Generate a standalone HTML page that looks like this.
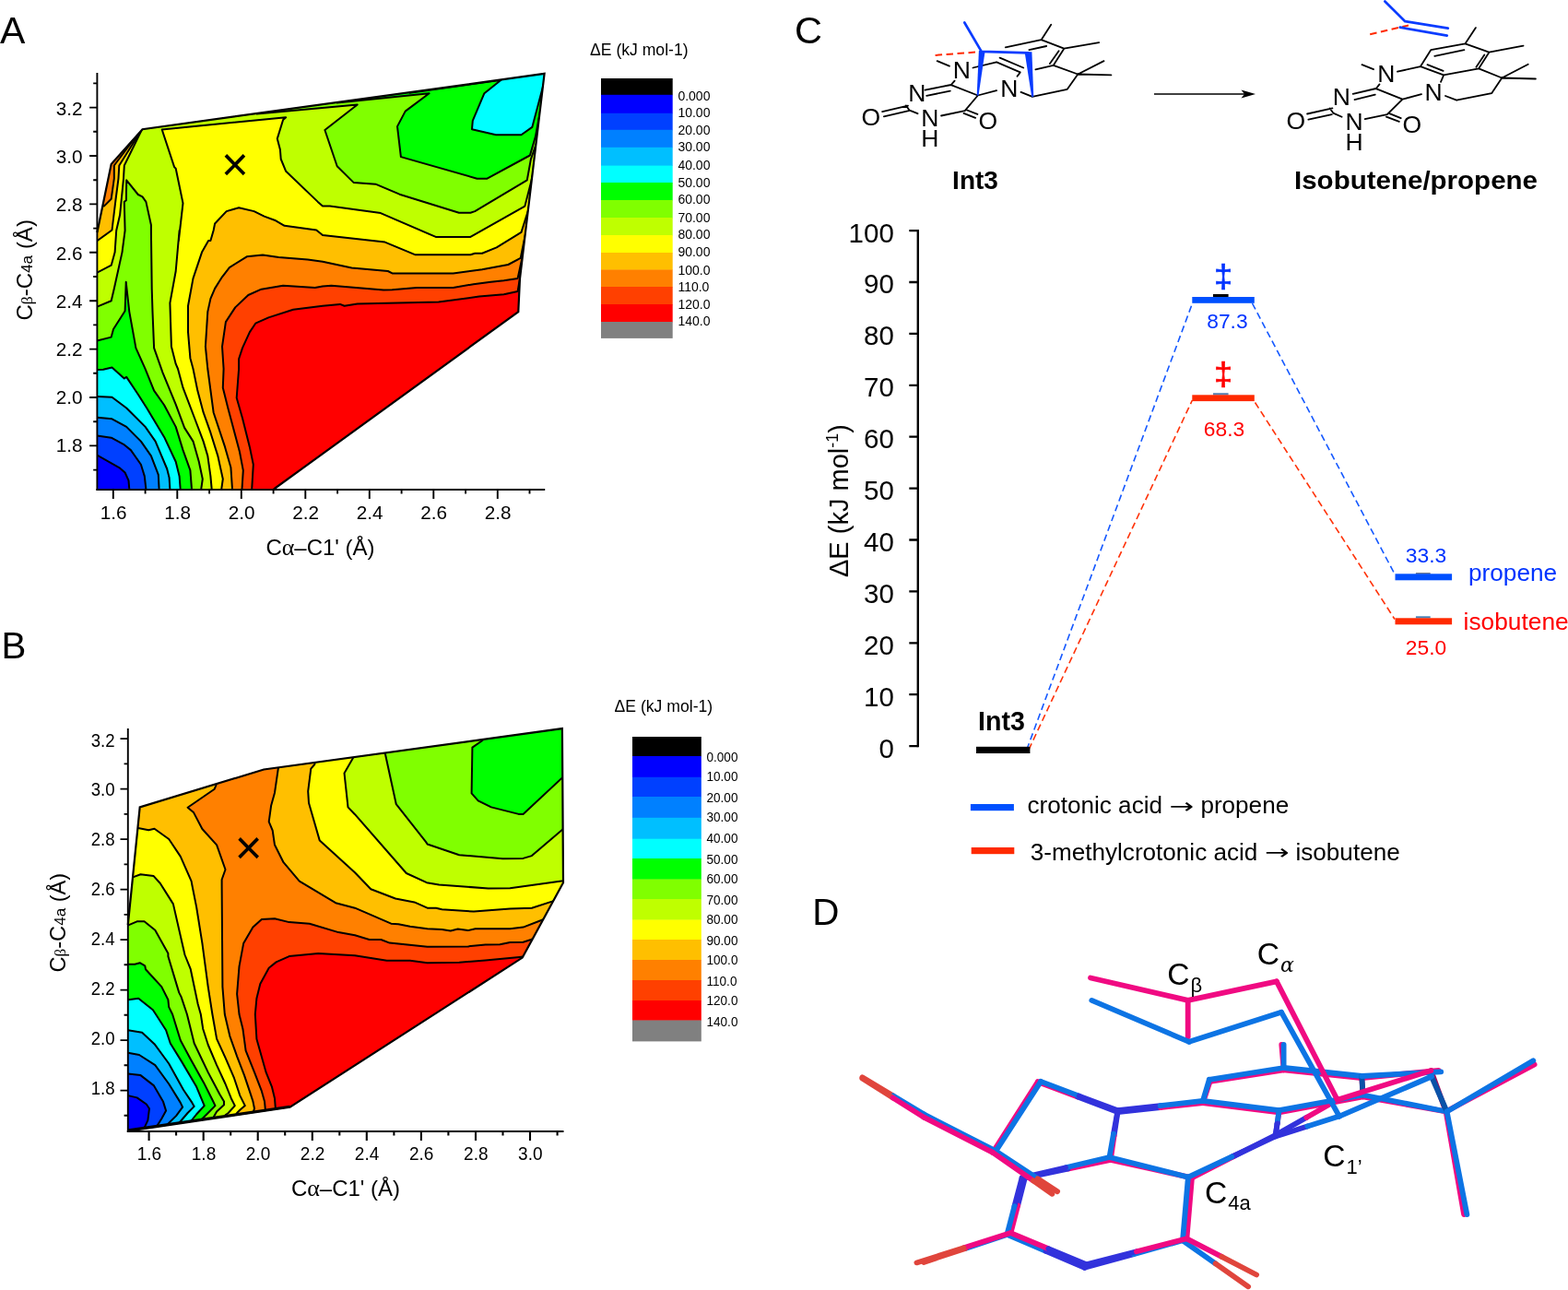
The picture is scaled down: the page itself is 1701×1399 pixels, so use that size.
<!DOCTYPE html>
<html><head><meta charset="utf-8"><title>Figure</title>
<style>
html,body{margin:0;padding:0;background:#fff;width:1701px;height:1399px;}
svg{display:block;font-family:'Liberation Sans', sans-serif;}
</style></head>
<body>
<svg width="1701" height="1399" viewBox="0 0 1701 1399">
<rect width="1701" height="1399" fill="#fff"/>
<text x="0" y="46.5" font-size="41">A</text>
<text x="1.5" y="713.5" font-size="40.2">B</text>
<text x="862" y="46.8" font-size="41.5">C</text>
<text x="881.2" y="1003.1" font-size="40.4">D</text>
<defs><clipPath id="clipA"><polygon points="105.4,530.5 105.4,252.0 120.7,178.0 154.5,140.2 590.6,79.9 564.0,302.0 562.3,338.1 297.0,530.5"/></clipPath></defs>
<g clip-path="url(#clipA)" stroke="#000" stroke-width="2" stroke-linejoin="round">
<polygon points="105.4,530.5 105.4,252.0 120.7,178.0 154.5,140.2 590.6,79.9 564.0,302.0 562.3,338.1 297.0,530.5" fill="#ffff00" stroke="none"/>
<polygon points="240.2,532.1 240.2,530.6 241.8,519.5 236.3,494.4 228.4,469.2 220.6,447.2 214.3,423.6 209.5,400.0 206.4,388.4 204.0,360.1 204.0,331.8 209.5,301.9 219.0,273.6 226.1,261.0 228.4,261.0 231.6,250.0 233.1,242.5 245.7,229.1 259.1,225.2 275.6,229.1 286.6,234.6 299.2,239.3 308.6,244.8 332.2,248.0 343.2,249.5 350.0,255.0 417.6,262.6 450.7,276.3 510.4,276.3 515.2,274.7 523.0,274.7 538.7,268.4 565.5,251.9 572.9,228.6 576.2,212.0 640.0,250.0 640.0,570.0 200.0,570.0" fill="#ffbf00"/>
<polygon points="252.0,532.1 252.0,530.6 250.4,507.0 244.1,484.9 231.6,447.2 225.3,400.0 222.9,375.8 225.3,338.1 228.4,323.9 233.1,312.9 241.0,300.3 248.9,290.1 267.7,278.3 285.0,276.4 302.3,279.1 333.8,281.5 350.0,283.8 381.5,290.6 420.8,294.0 425.5,296.4 491.6,296.4 523.0,292.2 551.3,287.0 564.7,279.9 569.2,257.7 572.5,243.0 640.0,250.0 640.0,570.0 200.0,570.0" fill="#ff8000"/>
<polygon points="262.5,532.1 262.5,530.6 263.8,510.1 259.9,489.7 247.3,442.5 241.8,420.4 242.6,400.0 241.0,375.8 244.9,349.1 255.2,333.4 269.3,320.0 283.5,313.7 307.1,309.8 341.7,312.1 350.0,310.6 359.4,309.8 416.1,314.5 425.5,314.2 452.2,312.1 491.6,312.1 513.6,308.2 532.5,305.8 546.6,304.3 561.6,301.9 566.2,280.8 569.0,268.0 640.0,250.0 640.0,570.0 200.0,570.0" fill="#ff4000"/>
<polygon points="273.2,532.1 273.2,530.6 274.8,503.8 270.9,484.9 263.0,453.5 256.7,431.5 259.1,400.0 259.1,389.2 263.0,377.4 270.9,360.1 277.2,350.7 291.3,344.4 318.1,335.7 350.0,331.8 368.9,329.9 373.6,331.8 387.7,329.4 475.8,327.4 519.9,321.6 546.6,319.2 561.6,316.1 563.8,302.7 566.0,290.0 640.0,250.0 640.0,570.0 200.0,570.0" fill="#ff0000"/>
<polygon points="105.3,261.3 121.5,249.5 125.4,217.3 128.5,193.7 129.3,179.5 152.9,141.8 150.0,130.0 60.0,100.0 60.0,270.0" fill="#ffbf00"/>
<polygon points="112.8,223.6 120.7,215.7 123.8,193.7 123.8,179.5 152.9,141.0 150.0,130.0 60.0,100.0 60.0,200.0" fill="#ff8000"/>
<polygon points="99.4,298.8 105.3,295.6 120.7,287.7 124.6,273.6 126.2,250.0 130.1,233.0 134.0,193.7 134.8,179.5 153.7,141.0 150.0,120.0 620.0,60.0 579.5,183.0 575.9,198.2 569.4,223.6 510.4,256.9 472.7,256.9 412.9,231.1 357.9,223.6 350.0,223.6 344.8,218.9 310.2,185.8 304.7,172.5 303.9,162.2 300.8,150.4 307.1,130.0 310.2,127.3 175.7,140.5 189.1,181.1 190.7,182.7 198.5,220.4 193.8,261.3 194.6,250.0 190.7,294.0 184.4,328.6 185.9,375.8 190.7,394.7 193.0,400.0 198.5,420.4 211.1,453.5 220.6,478.6 225.3,494.4 228.4,516.4 229.7,530.6 229.7,533.7 60.0,560.0" fill="#bfff00"/>
<polygon points="99.4,334.9 105.3,332.6 120.7,326.3 123.8,312.9 132.5,273.6 135.6,250.0 134.8,218.9 136.9,217.3 137.2,195.3 149.8,211.0 154.5,213.4 158.4,218.9 163.9,244.0 163.9,250.0 164.7,312.9 165.5,338.1 167.1,377.4 176.5,404.1 190.7,438.7 200.1,463.9 209.5,478.6 215.8,500.7 219.8,519.5 218.2,530.6 218.2,533.7 60.0,560.0" fill="#80ff00"/>
<polygon points="278.7,123.4 387.7,113.5 352.4,141.0 365.7,180.3 383.8,198.1 407.4,199.7 433.4,210.7 497.9,230.7 510.4,230.7 515.2,229.1 571.8,195.3 575.9,172.7 581.0,158.0 620.0,60.0 300.0,100.0" fill="#80ff00"/>
<polygon points="99.4,371.1 105.3,369.5 120.7,365.6 123.0,357.0 135.6,337.3 136.7,305.8 140.3,338.1 144.3,360.1 147.4,377.4 157.6,400.1 167.1,423.6 178.1,439.3 190.7,462.9 198.5,488.1 206.4,510.1 208.0,530.6 208.0,533.7 60.0,560.0" fill="#00ff00"/>
<polygon points="365.7,111.4 465.6,101.2 439.7,120.6 431.0,137.1 434.9,170.1 517.5,193.7 528.5,193.7 574.9,168.5 580.9,148.1 587.5,111.9 620.0,60.0 380.0,95.0" fill="#00ff00"/>
<polygon points="99.4,401.0 105.3,401.0 112.0,400.7 121.5,398.6 134.8,410.4 137.2,408.9 149.8,427.7 159.2,442.5 178.1,473.9 190.7,500.7 194.6,516.4 195.7,530.6 195.7,533.7 60.0,560.0" fill="#00ffff"/>
<polygon points="444.4,100.7 543.5,86.7 525.4,101.2 512.8,130.8 512.0,140.2 538.0,146.2 565.5,146.2 577.3,137.9 587.8,98.5 593.0,78.9 620.0,60.0 450.0,80.0" fill="#00ffff"/>
<polygon points="99.4,429.9 105.3,429.9 121.5,430.7 137.2,442.5 157.6,462.9 168.6,478.6 181.2,508.5 183.6,518.0 184.4,530.6 184.4,533.7 60.0,560.0" fill="#00bfff"/>
<polygon points="99.4,452.7 105.3,452.7 121.5,454.3 137.2,462.9 152.9,478.6 163.9,494.4 171.8,514.8 172.6,530.6 172.6,533.7 60.0,560.0" fill="#0080ff"/>
<polygon points="99.4,472.4 105.3,472.4 120.7,474.7 134.0,481.8 141.9,488.1 152.9,503.8 156.8,516.4 158.4,530.6 158.4,533.7 60.0,560.0" fill="#0040ff"/>
<polygon points="99.4,492.8 105.3,493.6 130.1,507.7 135.6,512.5 139.5,521.1 140.3,530.6 140.3,533.7 60.0,560.0" fill="#0000ff"/>
</g>
<polyline points="105.4,252.0 120.7,178.0 154.5,140.2 590.6,79.9 564.0,302.0 562.3,338.1 297.0,530.5" fill="none" stroke="#000" stroke-width="2.2" stroke-linejoin="miter"/>
<text x="255.0" y="195.9" font-size="51" text-anchor="middle">×</text>
<defs><clipPath id="clipB"><polygon points="138.8,1226.6 138.8,1003.0 151.7,875.4 286.2,834.5 609.9,790.1 611.0,957.2 566.7,1038.6 314.5,1200.7"/></clipPath></defs>
<g clip-path="url(#clipB)" stroke="#000" stroke-width="2.0" stroke-linejoin="round">
<polygon points="138.8,1226.6 138.8,1003.0 151.7,875.4 286.2,834.5 609.9,790.1 611.0,957.2 566.7,1038.6 314.5,1200.7" fill="#ff8000" stroke="none"/>
<polygon points="287.8,1210.1 287.8,1203.0 287.0,1194.4 283.9,1183.4 276.0,1162.9 266.6,1139.3 263.4,1115.7 259.5,1100.0 257.1,1078.0 259.5,1048.1 264.2,1022.9 274.4,1005.6 283.9,997.0 298.0,996.2 313.7,1000.1 335.8,1001.7 367.2,1011.1 385.0,1014.3 400.7,1019.0 413.3,1019.0 422.7,1022.6 463.6,1026.8 507.7,1026.4 526.6,1024.5 542.3,1024.2 553.3,1022.1 567.5,1021.7 576.1,1019.0 589.5,1013.5 660.0,1000.0 660.0,1260.0 280.0,1260.0" fill="#ff4000"/>
<polygon points="298.8,1208.5 298.8,1201.5 298.0,1191.2 294.9,1178.6 288.6,1162.9 278.4,1126.7 276.8,1100.0 278.4,1082.7 282.3,1067.0 291.7,1049.7 299.6,1043.4 313.7,1037.1 345.2,1033.9 385.0,1036.3 419.6,1041.8 444.8,1041.8 463.6,1044.2 498.2,1043.7 526.6,1041.5 563.5,1037.9 576.9,1036.3 660.0,1000.0 660.0,1260.0 280.0,1260.0" fill="#ff0000"/>
<polygon points="100.0,800.0 236.0,830.0 235.1,849.4 234.3,851.8 232.7,855.7 203.6,875.7 209.9,880.9 219.4,899.0 235.1,916.3 244.5,943.0 240.6,954.0 240.6,960.0 241.4,1070.1 243.8,1100.0 249.3,1123.6 257.1,1145.6 265.0,1166.1 271.3,1184.9 274.4,1194.4 276.0,1202.2 275.2,1204.6 274.4,1208.5 300.0,1260.0 100.0,1260.0" fill="#ffbf00"/>
<polygon points="147.0,897.7 151.0,898.2 161.2,900.2 167.5,898.7 183.2,910.0 195.8,928.9 207.6,955.6 208.4,960.0 213.1,983.6 219.4,1022.9 225.7,1070.1 230.4,1100.0 235.1,1126.7 244.5,1147.2 254.0,1169.2 260.3,1188.1 265.8,1199.1 260.3,1203.8 257.1,1207.0 255.6,1210.1 250.6,1260.0 100.0,1260.0 100.0,897.7" fill="#ffff00"/>
<polygon points="140.7,953.2 145.4,950.9 152.5,948.2 166.7,950.1 173.8,958.0 183.2,972.9 187.9,980.4 200.5,1035.5 206.8,1051.2 214.7,1089.0 217.8,1100.0 220.2,1115.7 225.7,1133.0 235.1,1155.1 244.5,1175.5 250.8,1191.2 254.8,1199.1 247.7,1207.0 244.5,1209.3 243.0,1212.5 238.0,1260.0 100.0,1260.0 100.0,953.2" fill="#bfff00"/>
<polygon points="134.4,1004.8 139.2,1003.3 148.6,999.3 156.5,999.3 168.3,1008.8 182.4,1033.9 182.4,1037.1 194.2,1076.4 196.6,1081.1 202.9,1100.0 210.7,1131.5 225.7,1162.9 238.2,1186.5 243.0,1194.4 243.0,1198.3 235.1,1205.4 232.0,1210.9 230.4,1214.0 225.4,1260.0 100.0,1260.0 100.0,1004.8" fill="#80ff00"/>
<polygon points="134.4,1045.7 139.2,1045.7 146.2,1045.7 151.7,1044.2 157.2,1047.3 158.0,1051.2 175.3,1070.1 182.4,1084.3 183.2,1092.1 187.1,1100.0 195.8,1128.3 206.8,1148.8 220.9,1173.9 230.4,1192.8 233.5,1199.1 225.7,1207.0 219.4,1213.2 217.8,1216.4 212.8,1260.0 100.0,1260.0 100.0,1045.7" fill="#00ff00"/>
<polygon points="134.4,1084.3 139.2,1084.3 150.2,1082.7 165.9,1095.3 169.0,1100.0 180.1,1117.3 184.8,1131.5 197.4,1151.9 213.1,1178.6 221.7,1199.1 213.1,1208.5 206.8,1216.4 205.2,1219.5 200.2,1260.0 100.0,1260.0 100.0,1084.3" fill="#00ffff"/>
<polygon points="134.4,1117.3 138.8,1117.3 154.1,1119.7 167.5,1132.2 183.2,1153.5 198.9,1181.8 208.4,1195.9 210.7,1199.9 203.6,1207.0 194.2,1218.0 192.6,1221.1 187.6,1260.0 100.0,1260.0 100.0,1117.3" fill="#00bfff"/>
<polygon points="134.4,1141.7 138.8,1141.7 151.0,1144.0 168.3,1155.1 183.2,1175.5 195.8,1195.9 198.1,1200.7 191.1,1210.1 180.8,1220.3 179.3,1223.5 174.3,1260.0 100.0,1260.0 100.0,1141.7" fill="#0080ff"/>
<polygon points="134.4,1164.5 138.8,1164.5 152.5,1166.1 166.7,1177.1 176.9,1194.4 180.1,1204.6 175.3,1213.2 169.8,1221.9 168.3,1225.0 163.3,1260.0 100.0,1260.0 100.0,1164.5" fill="#0040ff"/>
<polygon points="134.4,1188.1 138.8,1188.1 148.6,1190.4 158.8,1197.5 162.0,1202.2 160.4,1214.8 157.2,1221.9 154.9,1224.3 153.3,1227.4 148.3,1260.0 100.0,1260.0 100.0,1188.1" fill="#0000ff"/>
<polygon points="302.7,828.2 302.0,832.1 298.0,859.7 294.1,873.8 291.7,891.1 295.7,900.6 298.0,916.3 307.5,935.2 324.8,955.6 364.1,979.2 385.0,984.7 424.3,1001.7 432.2,1002.2 444.8,1004.8 463.6,1007.2 479.4,1008.0 488.8,1009.5 496.7,1007.5 507.7,1009.1 515.6,1007.2 553.3,1007.2 567.5,1005.6 587.9,997.7 605.2,991.5 660.0,991.5 660.0,760.0 302.7,760.0" fill="#ffbf00"/>
<polygon points="342.1,825.1 341.3,829.0 337.3,833.7 334.2,858.1 335.0,870.7 346.8,911.6 385.0,946.2 402.3,964.3 429.0,974.5 449.5,978.4 463.6,984.7 473.1,984.7 479.4,986.3 514.0,988.6 553.3,985.5 576.9,984.7 598.9,977.6 613.1,972.9 660.0,972.9 660.0,760.0 342.1,760.0" fill="#ffff00"/>
<polygon points="383.7,818.8 383.0,821.9 373.5,838.4 377.5,875.4 385.0,883.2 440.8,947.0 462.9,957.2 476.2,959.5 529.7,963.5 553.3,963.2 611.0,955.3 617.8,954.0 660.0,954.0 660.0,760.0 383.7,760.0" fill="#bfff00"/>
<polygon points="417.2,814.0 418.0,818.0 429.8,872.2 462.1,913.1 463.6,915.5 498.2,927.3 545.4,931.2 567.5,930.9 576.9,928.1 611.0,899.0 617.8,894.3 660.0,894.3 660.0,760.0 417.2,760.0" fill="#80ff00"/>
<polygon points="525.0,799.9 523.4,803.0 512.4,810.6 511.6,860.4 518.7,868.3 532.9,875.4 562.7,882.9 567.5,882.9 611.0,842.4 617.8,836.1 660.0,836.1 660.0,760.0 525.0,760.0" fill="#00ff00"/>
</g>
<polyline points="138.8,1003.0 151.7,875.4 286.2,834.5 609.9,790.1 611.0,957.2 566.7,1038.6 314.5,1200.7 138.8,1226.6" fill="none" stroke="#000" stroke-width="2.2" stroke-linejoin="miter"/>
<path d="M139.5,1225.6L314.5,1200" stroke="#000" stroke-width="2.6" fill="none"/>
<text x="269.7" y="936.5" font-size="51" text-anchor="middle">×</text>
<path d="M104.5,531H591.2" stroke="#000" stroke-width="1.9" fill="none"/><path d="M122.8,531v10M192.3,531v10M261.8,531v10M331.3,531v10M400.8,531v10M470.3,531v10M539.8,531v10M157.6,531v4.5M227.1,531v4.5M296.6,531v4.5M366.1,531v4.5M435.6,531v4.5M505.1,531v4.5M574.5,531v4.5" stroke="#000" stroke-width="1.9" fill="none"/><text transform="translate(123.1,562.6) scale(1,1)" font-size="20.7" text-anchor="middle">1.6</text><text transform="translate(192.6,562.6) scale(1,1)" font-size="20.7" text-anchor="middle">1.8</text><text transform="translate(262.1,562.6) scale(1,1)" font-size="20.7" text-anchor="middle">2.0</text><text transform="translate(331.6,562.6) scale(1,1)" font-size="20.7" text-anchor="middle">2.2</text><text transform="translate(401.1,562.6) scale(1,1)" font-size="20.7" text-anchor="middle">2.4</text><text transform="translate(470.6,562.6) scale(1,1)" font-size="20.7" text-anchor="middle">2.6</text><text transform="translate(540.1,562.6) scale(1,1)" font-size="20.7" text-anchor="middle">2.8</text>
<path d="M105.4,79.1V532.0" stroke="#000" stroke-width="1.9" fill="none"/><path d="M105.4,116.6h-8.3M105.4,169.0h-8.3M105.4,221.4h-8.3M105.4,273.8h-8.3M105.4,326.2h-8.3M105.4,378.6h-8.3M105.4,431.0h-8.3M105.4,483.4h-8.3M105.4,90.4h-4.2M105.4,142.8h-4.2M105.4,195.2h-4.2M105.4,247.6h-4.2M105.4,300.0h-4.2M105.4,352.4h-4.2M105.4,404.8h-4.2M105.4,457.2h-4.2M105.4,509.6h-4.2" stroke="#000" stroke-width="1.9" fill="none"/><text transform="translate(89.6,125.0) scale(1,1)" font-size="20.7" text-anchor="end">3.2</text><text transform="translate(89.6,177.2) scale(1,1)" font-size="20.7" text-anchor="end">3.0</text><text transform="translate(89.6,229.3) scale(1,1)" font-size="20.7" text-anchor="end">2.8</text><text transform="translate(89.6,281.5) scale(1,1)" font-size="20.7" text-anchor="end">2.6</text><text transform="translate(89.6,333.7) scale(1,1)" font-size="20.7" text-anchor="end">2.4</text><text transform="translate(89.6,385.9) scale(1,1)" font-size="20.7" text-anchor="end">2.2</text><text transform="translate(89.6,438.0) scale(1,1)" font-size="20.7" text-anchor="end">2.0</text><text transform="translate(89.6,490.2) scale(1,1)" font-size="20.7" text-anchor="end">1.8</text>
<rect x="652" y="85.00" width="77.7" height="18.20" fill="#000000"/><rect x="652" y="102.80" width="77.7" height="20.40" fill="#0000ff"/><rect x="652" y="122.80" width="77.7" height="18.40" fill="#0040ff"/><rect x="652" y="140.80" width="77.7" height="19.40" fill="#0080ff"/><rect x="652" y="159.80" width="77.7" height="20.20" fill="#00bfff"/><rect x="652" y="179.60" width="77.7" height="18.80" fill="#00ffff"/><rect x="652" y="198.00" width="77.7" height="19.40" fill="#00ff00"/><rect x="652" y="217.00" width="77.7" height="19.40" fill="#80ff00"/><rect x="652" y="236.00" width="77.7" height="19.40" fill="#bfff00"/><rect x="652" y="255.00" width="77.7" height="19.40" fill="#ffff00"/><rect x="652" y="274.00" width="77.7" height="18.90" fill="#ffbf00"/><rect x="652" y="292.50" width="77.7" height="18.90" fill="#ff8000"/><rect x="652" y="311.00" width="77.7" height="19.40" fill="#ff4000"/><rect x="652" y="330.00" width="77.7" height="19.40" fill="#ff0000"/><rect x="652" y="349.00" width="77.7" height="17.90" fill="#808080"/><text transform="translate(735.4,108.5) scale(1,1)" font-size="14">0.000</text><text transform="translate(735.4,126.5) scale(1,1)" font-size="14">10.00</text><text transform="translate(735.4,146.1) scale(1,1)" font-size="14">20.00</text><text transform="translate(735.4,163.9) scale(1,1)" font-size="14">30.00</text><text transform="translate(735.4,183.5) scale(1,1)" font-size="14">40.00</text><text transform="translate(735.4,203.0) scale(1,1)" font-size="14">50.00</text><text transform="translate(735.4,221.0) scale(1,1)" font-size="14">60.00</text><text transform="translate(735.4,240.5) scale(1,1)" font-size="14">70.00</text><text transform="translate(735.4,258.5) scale(1,1)" font-size="14">80.00</text><text transform="translate(735.4,278.0) scale(1,1)" font-size="14">90.00</text><text transform="translate(735.4,297.5) scale(1,1)" font-size="14">100.0</text><text transform="translate(735.4,315.5) scale(1,1)" font-size="14">110.0</text><text transform="translate(735.4,335.0) scale(1,1)" font-size="14">120.0</text><text transform="translate(735.4,353.0) scale(1,1)" font-size="14">140.0</text><text x="640" y="60.4" font-size="17.6">ΔE (kJ mol-1)</text>
<path d="M137.8,1227H611.5" stroke="#000" stroke-width="2.1" fill="none"/><path d="M161.6,1227v10M220.7,1227v10M279.7,1227v10M338.8,1227v10M397.8,1227v10M456.9,1227v10M516.0,1227v10M575.0,1227v10M191.1,1227v4.5M250.2,1227v4.5M309.2,1227v4.5M368.3,1227v4.5M427.4,1227v4.5M486.4,1227v4.5M545.5,1227v4.5M604.6,1227v4.5" stroke="#000" stroke-width="2.1" fill="none"/><text transform="translate(161.9,1257.5) scale(0.92,1)" font-size="20.7" text-anchor="middle">1.6</text><text transform="translate(221.0,1257.5) scale(0.92,1)" font-size="20.7" text-anchor="middle">1.8</text><text transform="translate(280.0,1257.5) scale(0.92,1)" font-size="20.7" text-anchor="middle">2.0</text><text transform="translate(339.1,1257.5) scale(0.92,1)" font-size="20.7" text-anchor="middle">2.2</text><text transform="translate(398.1,1257.5) scale(0.92,1)" font-size="20.7" text-anchor="middle">2.4</text><text transform="translate(457.2,1257.5) scale(0.92,1)" font-size="20.7" text-anchor="middle">2.6</text><text transform="translate(516.3,1257.5) scale(0.92,1)" font-size="20.7" text-anchor="middle">2.8</text><text transform="translate(575.3,1257.5) scale(0.92,1)" font-size="20.7" text-anchor="middle">3.0</text>
<path d="M138.8,790.1V1227.5" stroke="#000" stroke-width="1.9" fill="none"/><path d="M138.8,801.1h-8.3M138.8,855.6h-8.3M138.8,910.1h-8.3M138.8,964.6h-8.3M138.8,1019.1h-8.3M138.8,1073.6h-8.3M138.8,1128.1h-8.3M138.8,1182.6h-8.3M138.8,828.4h-4.2M138.8,882.9h-4.2M138.8,937.4h-4.2M138.8,991.9h-4.2M138.8,1046.3h-4.2M138.8,1100.8h-4.2M138.8,1155.3h-4.2M138.8,1209.8h-4.2" stroke="#000" stroke-width="1.9" fill="none"/><text transform="translate(124.6,809.5) scale(0.9,1)" font-size="20.7" text-anchor="end">3.2</text><text transform="translate(124.6,863.4) scale(0.9,1)" font-size="20.7" text-anchor="end">3.0</text><text transform="translate(124.6,917.4) scale(0.9,1)" font-size="20.7" text-anchor="end">2.8</text><text transform="translate(124.6,971.3) scale(0.9,1)" font-size="20.7" text-anchor="end">2.6</text><text transform="translate(124.6,1025.2) scale(0.9,1)" font-size="20.7" text-anchor="end">2.4</text><text transform="translate(124.6,1079.1) scale(0.9,1)" font-size="20.7" text-anchor="end">2.2</text><text transform="translate(124.6,1133.1) scale(0.9,1)" font-size="20.7" text-anchor="end">2.0</text><text transform="translate(124.6,1187.0) scale(0.9,1)" font-size="20.7" text-anchor="end">1.8</text>
<rect x="686" y="799.00" width="74.8" height="21.40" fill="#000000"/><rect x="686" y="820.00" width="74.8" height="23.20" fill="#0000ff"/><rect x="686" y="842.80" width="74.8" height="21.60" fill="#0040ff"/><rect x="686" y="864.00" width="74.8" height="23.20" fill="#0080ff"/><rect x="686" y="886.80" width="74.8" height="23.30" fill="#00bfff"/><rect x="686" y="909.70" width="74.8" height="21.70" fill="#00ffff"/><rect x="686" y="931.00" width="74.8" height="22.90" fill="#00ff00"/><rect x="686" y="953.50" width="74.8" height="21.90" fill="#80ff00"/><rect x="686" y="975.00" width="74.8" height="22.90" fill="#bfff00"/><rect x="686" y="997.50" width="74.8" height="21.90" fill="#ffff00"/><rect x="686" y="1019.00" width="74.8" height="22.40" fill="#ffbf00"/><rect x="686" y="1041.00" width="74.8" height="22.40" fill="#ff8000"/><rect x="686" y="1063.00" width="74.8" height="22.40" fill="#ff4000"/><rect x="686" y="1085.00" width="74.8" height="21.90" fill="#ff0000"/><rect x="686" y="1106.50" width="74.8" height="22.90" fill="#808080"/><text transform="translate(766.5,825.7) scale(0.93,1)" font-size="14.6">0.000</text><text transform="translate(766.5,847.0) scale(0.93,1)" font-size="14.6">10.00</text><text transform="translate(766.5,869.7) scale(0.93,1)" font-size="14.6">20.00</text><text transform="translate(766.5,890.5) scale(0.93,1)" font-size="14.6">30.00</text><text transform="translate(766.5,913.5) scale(0.93,1)" font-size="14.6">40.00</text><text transform="translate(766.5,936.5) scale(0.93,1)" font-size="14.6">50.00</text><text transform="translate(766.5,958.0) scale(0.93,1)" font-size="14.6">60.00</text><text transform="translate(766.5,980.5) scale(0.93,1)" font-size="14.6">70.00</text><text transform="translate(766.5,1001.5) scale(0.93,1)" font-size="14.6">80.00</text><text transform="translate(766.5,1024.5) scale(0.93,1)" font-size="14.6">90.00</text><text transform="translate(766.5,1045.5) scale(0.93,1)" font-size="14.6">100.0</text><text transform="translate(766.5,1068.5) scale(0.93,1)" font-size="14.6">110.0</text><text transform="translate(766.5,1089.5) scale(0.93,1)" font-size="14.6">120.0</text><text transform="translate(766.5,1112.5) scale(0.93,1)" font-size="14.6">140.0</text><text x="666.6" y="771.8" font-size="17.6">ΔE (kJ mol-1)</text>
<text x="347.5" y="602" font-size="24" text-anchor="middle">C<tspan font-family="'Liberation Serif', serif" font-size="26">α</tspan>–C1' (Å)</text>
<text transform="translate(34.9,347.6) rotate(-90) scale(1,1)" font-size="24">C<tspan font-family="'Liberation Serif', serif" font-size="17.5">β</tspan>-C<tspan font-size="17.3">4a</tspan> (Å)</text>
<text x="375" y="1297" font-size="24" text-anchor="middle">C<tspan font-family="'Liberation Serif', serif" font-size="26">α</tspan>–C1' (Å)</text>
<text transform="translate(70.7,1054.6) rotate(-90) scale(0.985,1)" font-size="24">C<tspan font-family="'Liberation Serif', serif" font-size="17.5">β</tspan>-C<tspan font-size="17.3">4a</tspan> (Å)</text>
<path d="M957.1,121.1L985.0,114.6M958.9,126.4L985.8,120.2M982.8,114.4L986.7,119.7L995.5,123.2M1003.5,97.7L1031.7,92.0M1005.2,103.8L1030.8,98.7M1031.7,92.2L1035.6,87.6M1031.7,92.2L1060.8,103.5M1060.8,103.5L1046.7,120.2M1046.7,120.2L1021.1,125.5M1047.9,119.0L1060.4,123.9M1045.5,122.9L1058.2,127.8M1060.8,103.5L1081.1,98.2M1107.5,99.9L1119.9,104.9M1119.9,104.9L1157.8,96.8L1169.3,80.5M1169.3,80.5L1197.5,66.1M1169.3,80.5L1205.4,81.4M1169.3,80.5L1142.8,70.8M1142.8,70.8L1154.3,52.7L1129.6,43.2L1090.8,51.4M1148.6,55.3L1138.9,69.1M1116.4,54.1L1135.2,50.0M1142.8,70.8L1123.4,75.3M1129.6,43.2L1140.2,26.8M1154.3,52.7L1192.2,46.2M1055.5,73.5L1081.1,67.3M1081.1,67.3L1106.7,78.4M1084.6,62.6L1110.2,73.5M1106.3,79.1L1103.5,82.7M1016.7,66.1L1029.9,71.7" stroke="#000" stroke-width="1.8" fill="none" stroke-linecap="round" stroke-linejoin="round" /><path d="M1014.6,59.9L1062.6,56.2" stroke="#ff2a00" stroke-width="2.0" fill="none" stroke-linecap="round" stroke-linejoin="round" stroke-dasharray="7.5 4.5" style="stroke-linecap:butt"/><path d="M1046.3,24.5L1064.7,55.9L1115.5,57.3" stroke="#0a3cff" stroke-width="2.7" fill="none" stroke-linecap="round" stroke-linejoin="round" /><polygon points="1061.9,55.0 1068.6,55.5 1061.5,103.8 1059.7,103.5" fill="#0a3cff"/><polygon points="1111.6,56.2 1119.4,56.2 1121.3,104.9 1119.2,105.2" fill="#0a3cff"/><text x="944.9" y="135.5" font-size="26.5" text-anchor="middle">O</text><text x="994.8" y="109.8" font-size="26.5" text-anchor="middle">N</text><text x="1008.8" y="136.8" font-size="26.5" text-anchor="middle">N</text><text x="1008.8" y="158.8" font-size="26.5" text-anchor="middle">H</text><text x="1043.2" y="85.1" font-size="26.5" text-anchor="middle">N</text><text x="1094.7" y="104.7" font-size="26.5" text-anchor="middle">N</text><text x="1071.7" y="139.8" font-size="26.5" text-anchor="middle">O</text><path d="M1418.1,123.5L1445.4,117.4M1419.4,129.7L1444.8,124.1M1442.6,117.4L1446.3,122.6L1455.6,126.7M1467.7,101.8L1492.7,96.0M1469.5,108.1L1491.8,102.7M1492.7,96.2L1496.5,91.4M1492.7,96.2L1521.5,107.7M1521.5,107.7L1504.8,124.1M1504.8,124.1L1480.7,129.1M1506.1,122.6L1519.7,128.2M1503.9,126.7L1517.8,131.9M1521.5,107.7L1542.0,102.2M1568.0,104.0L1580.1,108.7M1580.1,108.7L1618.1,101.2L1629.3,84.5M1629.3,84.5L1657.7,69.7M1629.3,84.5L1665.9,85.5M1629.3,84.5L1604.2,74.3M1541.0,72.1L1552.2,54.2L1589.4,47.4L1615.4,56.7L1604.2,74.3L1566.1,81.4L1541.0,72.1M1556.3,60.9L1588.4,54.2M1610.3,59.4L1601.4,72.8M1548.5,70.2L1565.6,76.9M1589.4,47.4L1600.9,30.1M1615.4,56.7L1652.5,49.6M1516.0,77.7L1541.0,72.1M1477.5,70.2L1490.0,75.2M1566.1,81.7L1563.0,88.8" stroke="#000" stroke-width="1.8" fill="none" stroke-linecap="round" stroke-linejoin="round" /><path d="M1486.2,37.2L1528.0,27.5" stroke="#ff2a00" stroke-width="2.0" fill="none" stroke-linecap="round" stroke-linejoin="round" stroke-dasharray="7.5 4.5" style="stroke-linecap:butt"/><path d="M1502.4,1.5L1524.3,23.2L1570.8,30.7M1518.8,29.7L1569.8,38.6" stroke="#0a3cff" stroke-width="2.7" fill="none" stroke-linecap="round" stroke-linejoin="round" /><text x="1405.8" y="139.5" font-size="26.5" text-anchor="middle">O</text><text x="1455.2" y="113.5" font-size="26.5" text-anchor="middle">N</text><text x="1469.0" y="140.5" font-size="26.5" text-anchor="middle">N</text><text x="1469.0" y="162.7" font-size="26.5" text-anchor="middle">H</text><text x="1503.9" y="89.4" font-size="26.5" text-anchor="middle">N</text><text x="1555.0" y="108.9" font-size="26.5" text-anchor="middle">N</text><text x="1531.8" y="143.6" font-size="26.5" text-anchor="middle">O</text><path d="M1252,102H1352" stroke="#000" stroke-width="1.3" fill="none"/><path d="M1362,102L1346.5,97.4L1350,102L1346.5,106.6Z" fill="#000"/><text x="1058" y="205" font-size="28" font-weight="bold" text-anchor="middle">Int3</text><text x="1404" y="204.8" font-size="28" font-weight="bold" textLength="264" lengthAdjust="spacingAndGlyphs">Isobutene/propene</text><path d="M995.8,248.9V810.3000000000001" stroke="#000" stroke-width="2.4" fill="none"/><path d="M995.8,250.1h-9.5M995.8,306.0h-9.5M995.8,361.9h-9.5M995.8,417.8h-9.5M995.8,473.7h-9.5M995.8,529.6h-9.5M995.8,585.5h-9.5M995.8,641.4h-9.5M995.8,697.3h-9.5M995.8,753.2h-9.5M995.8,809.1h-9.5" stroke="#000" stroke-width="2.3" fill="none"/><text x="969.8" y="262.5" font-size="29.5" text-anchor="end">100</text><text x="969.8" y="318.4" font-size="29.5" text-anchor="end">90</text><text x="969.8" y="374.3" font-size="29.5" text-anchor="end">80</text><text x="969.8" y="430.2" font-size="29.5" text-anchor="end">70</text><text x="969.8" y="486.1" font-size="29.5" text-anchor="end">60</text><text x="969.8" y="542.0" font-size="29.5" text-anchor="end">50</text><text x="969.8" y="597.9" font-size="29.5" text-anchor="end">40</text><text x="969.8" y="653.8" font-size="29.5" text-anchor="end">30</text><text x="969.8" y="709.7" font-size="29.5" text-anchor="end">20</text><text x="969.8" y="765.6" font-size="29.5" text-anchor="end">10</text><text x="969.8" y="821.5" font-size="29.5" text-anchor="end">0</text><text transform="translate(919.7,626) rotate(-90)" font-size="29">ΔE (kJ mol<tspan font-size="18" dy="-11">-1</tspan><tspan dy="11">)</tspan></text><path d="M1113.8,813L1293.5,329M1358.5,329L1513.7,624" stroke="#1458ff" stroke-dasharray="7.3 4.2" stroke-width="1.6" fill="none"/><path d="M1116,813L1293.4,434M1361.5,436.5L1513,671.5" stroke="#ff3208" stroke-dasharray="7.3 4.2" stroke-width="1.6" fill="none"/><rect x="1059" y="809.8" width="58.4" height="7.2" fill="#000"/><rect x="1316" y="319" width="16.6" height="3.4" fill="#000"/><rect x="1293.3" y="322" width="67.5" height="6.8" fill="#0050ff"/><rect x="1316" y="426.2" width="16.6" height="2.4" fill="#5a7fae"/><rect x="1293.3" y="428.3" width="67.5" height="6.8" fill="#ff2a00"/><rect x="1535.9" y="621.2" width="15.8" height="1.5" fill="#4a5a78"/><rect x="1513.5" y="622.3" width="61.6" height="7" fill="#0050ff"/><rect x="1535.9" y="668.3" width="15.8" height="2.2" fill="#4a82b4"/><rect x="1513.5" y="670.3" width="61.6" height="7" fill="#ff2a00"/><text x="1327.1" y="311.7" font-size="35.5" stroke="#0033ff" stroke-width="0.7" fill="#0033ff" text-anchor="middle">‡</text><text x="1327.1" y="418.2" font-size="35.5" stroke="#ff0000" stroke-width="0.7" fill="#ff0000" text-anchor="middle">‡</text><text x="1331.4" y="355.8" font-size="22.8" fill="#0033ff" text-anchor="middle">87.3</text><text x="1328" y="472.5" font-size="22.8" fill="#ff0000" text-anchor="middle">68.3</text><text x="1547" y="610.1" font-size="22.8" fill="#0033ff" text-anchor="middle">33.3</text><text x="1547" y="709.9" font-size="22.8" fill="#ff0000" text-anchor="middle">25.0</text><text x="1593" y="629.8" font-size="26.2" fill="#0033ff">propene</text><text x="1587.6" y="683.4" font-size="26.3" fill="#ff0000">isobutene</text><text x="1086.5" y="792.1" font-size="28.6" font-weight="bold" text-anchor="middle">Int3</text><rect x="1052.9" y="872" width="47" height="7.2" fill="#0050ff"/><rect x="1053.7" y="919" width="46.6" height="7.2" fill="#ff2a00"/><text x="1114.5" y="882.3" font-size="26.1">crotonic acid</text><text transform="translate(1268.4,881.9) scale(1.18,0.85)" font-family="DejaVu Sans, sans-serif" font-size="27">→</text><text x="1302.4" y="882.3" font-size="26.1">propene</text><text x="1117.8" y="932.7" font-size="26.1">3-methylcrotonic acid</text><text transform="translate(1371.9,932.3) scale(1.18,0.85)" font-family="DejaVu Sans, sans-serif" font-size="27">→</text><text x="1405.5" y="932.7" font-size="26.1">isobutene</text>
<g stroke-width="5.8" stroke-linecap="round" fill="none"><path d="M1077.0,1249.9L1125.8,1173.2" stroke="#f00a82"/><path d="M1125.8,1173.2L1169.1,1189.6" stroke="#f00a82"/><path d="M1169.1,1189.6L1212.5,1206.0" stroke="#3232dc"/><path d="M1212.5,1206.0L1208.6,1231.9" stroke="#3232dc"/><path d="M1208.6,1231.9L1204.8,1257.8" stroke="#f00a82"/><path d="M1204.8,1257.8L1158.4,1267.6" stroke="#f00a82"/><path d="M1158.4,1267.6L1111.9,1277.3" stroke="#3232dc"/><path d="M1111.9,1277.3L1104.2,1307.2" stroke="#3232dc"/><path d="M1104.2,1307.2L1096.5,1337.1" stroke="#f00a82"/><path d="M1287.4,1343.3L1293.0,1277.3" stroke="#f00a82"/><path d="M1293.0,1277.3L1204.8,1257.8" stroke="#f00a82"/><path d="M1212.5,1206.0L1258.7,1201.0" stroke="#3232dc"/><path d="M1258.7,1201.0L1304.9,1196.0" stroke="#f00a82"/><path d="M1304.9,1196.0L1312.6,1172.9" stroke="#f00a82"/><path d="M1312.6,1172.9L1392.6,1160.3" stroke="#f00a82"/><path d="M1392.6,1160.3L1390.3,1132.9" stroke="#f00a82"/><path d="M1392.6,1160.3L1477.3,1169.1" stroke="#f00a82"/><path d="M1477.3,1169.1L1478.6,1189.3" stroke="#a80a5c"/><path d="M1478.6,1189.3L1387.5,1206.3" stroke="#f00a82"/><path d="M1387.5,1206.3L1304.9,1196.0" stroke="#f00a82"/><path d="M1387.5,1206.3L1385.6,1218.7" stroke="#f00a82"/><path d="M1385.6,1218.7L1383.6,1231.1" stroke="#3232dc"/><path d="M1383.6,1231.1L1338.3,1254.2" stroke="#3232dc"/><path d="M1338.3,1254.2L1293.0,1277.3" stroke="#f00a82"/><path d="M1383.6,1231.1L1417.2,1211.9" stroke="#3232dc"/><path d="M1417.2,1211.9L1450.8,1192.7" stroke="#f00a82"/><path d="M1477.3,1169.1L1560.7,1160.8" stroke="#f00a82"/><path d="M1478.6,1189.3L1568.6,1205.5" stroke="#f00a82"/><path d="M1552.4,1161.1L1568.6,1205.5" stroke="#a80a5c"/><path d="M1568.6,1205.5L1664.6,1154.4" stroke="#f00a82"/><path d="M1568.6,1205.5L1588.1,1317.1" stroke="#f00a82"/><path d="M1183.0,1060.5L1288.7,1084.9" stroke="#f00a82"/><path d="M1288.7,1084.9L1384.9,1064.4" stroke="#f00a82"/><path d="M1288.7,1084.9L1288.7,1124.2" stroke="#f00a82"/><path d="M935.4,1168.3L968.7,1188.3" stroke="#e0453c"/><path d="M968.7,1188.3L1002.1,1208.3" stroke="#0d74e4"/><path d="M1002.1,1208.3L1080.4,1248.3" stroke="#0d74e4"/><path d="M1080.4,1248.3L1129.1,1172.9" stroke="#0d74e4"/><path d="M1129.1,1172.9L1170.8,1188.6" stroke="#0d74e4"/><path d="M1170.8,1188.6L1212.5,1204.2" stroke="#3232dc"/><path d="M1212.5,1204.2L1208.0,1229.6" stroke="#3232dc"/><path d="M1208.0,1229.6L1203.5,1255.0" stroke="#0d74e4"/><path d="M1203.5,1255.0L1156.0,1266.2" stroke="#0d74e4"/><path d="M1156.0,1266.2L1108.6,1277.3" stroke="#3232dc"/><path d="M1080.4,1248.3L1125.7,1278.2" stroke="#0d74e4"/><path d="M1125.7,1278.2L1147.1,1292.2" stroke="#e0453c"/><path d="M1108.6,1277.3L1100.5,1308.1" stroke="#3232dc"/><path d="M1100.5,1308.1L1092.4,1338.9" stroke="#0d74e4"/><path d="M1092.4,1338.9L1134.5,1356.9" stroke="#0d74e4"/><path d="M1134.5,1356.9L1176.6,1374.8" stroke="#3232dc"/><path d="M1176.6,1374.8L1229.8,1360.1" stroke="#3232dc"/><path d="M1229.8,1360.1L1283.0,1345.3" stroke="#0d74e4"/><path d="M1283.0,1345.3L1288.9,1276.6" stroke="#0d74e4"/><path d="M1288.9,1276.6L1203.5,1255.0" stroke="#0d74e4"/><path d="M1092.4,1338.9L1047.3,1353.9" stroke="#0d74e4"/><path d="M1047.3,1353.9L1002.1,1368.9" stroke="#e0453c"/><path d="M1283.0,1345.3L1318.6,1370.3" stroke="#0d74e4"/><path d="M1318.6,1370.3L1354.1,1395.3" stroke="#e0453c"/><path d="M1212.5,1204.2L1258.7,1199.1" stroke="#3232dc"/><path d="M1258.7,1199.1L1304.9,1193.9" stroke="#0d74e4"/><path d="M1304.9,1193.9L1311.8,1170.8" stroke="#0d74e4"/><path d="M1311.8,1170.8L1392.6,1158.0" stroke="#0d74e4"/><path d="M1392.6,1158.0L1392.6,1132.9" stroke="#0d74e4"/><path d="M1392.6,1158.0L1477.3,1167.0" stroke="#0d74e4"/><path d="M1477.3,1167.0L1478.6,1187.5" stroke="#0a52a8"/><path d="M1478.6,1187.5L1387.5,1204.2" stroke="#0d74e4"/><path d="M1387.5,1204.2L1304.9,1193.9" stroke="#0d74e4"/><path d="M1387.5,1204.2L1385.6,1218.3" stroke="#0d74e4"/><path d="M1385.6,1218.3L1383.6,1232.4" stroke="#3232dc"/><path d="M1383.6,1232.4L1336.3,1254.5" stroke="#3232dc"/><path d="M1336.3,1254.5L1288.9,1276.6" stroke="#0d74e4"/><path d="M1383.6,1232.4L1418.3,1221.5" stroke="#3232dc"/><path d="M1418.3,1221.5L1452.9,1210.6" stroke="#0d74e4"/><path d="M1477.3,1167.0L1563.2,1162.4" stroke="#0d74e4"/><path d="M1478.6,1187.5L1569.6,1205.5" stroke="#0d74e4"/><path d="M1553.0,1167.5L1569.6,1205.5" stroke="#0a52a8"/><path d="M1569.6,1205.5L1663.3,1150.3" stroke="#0d74e4"/><path d="M1569.6,1205.5L1591.4,1317.1" stroke="#0d74e4"/><path d="M1452.9,1210.6L1553.0,1167.5" stroke="#0d74e4"/><path d="M1184.3,1084.9L1290.0,1129.8" stroke="#0d74e4"/><path d="M1290.0,1129.8L1390.0,1097.7" stroke="#0d74e4"/><path d="M1390.0,1097.7L1452.9,1210.6" stroke="#0d74e4"/><path d="M935.4,1169.6L968.7,1190.6" stroke="#e0453c"/><path d="M968.7,1190.6L1002.1,1211.6" stroke="#f00a82"/><path d="M1002.1,1211.6L1077.0,1249.9" stroke="#f00a82"/><path d="M1450.8,1192.7L1552.4,1161.1" stroke="#f00a82"/><path d="M1384.9,1064.4L1450.8,1192.7" stroke="#f00a82"/><path d="M1287.4,1343.3L1325.3,1362.9" stroke="#f00a82"/><path d="M1325.3,1362.9L1363.1,1382.5" stroke="#e0453c"/><path d="M1096.5,1337.1L1045.5,1353.3" stroke="#f00a82"/><path d="M1045.5,1353.3L994.4,1369.4" stroke="#e0453c"/><path d="M1077.0,1249.9L1120.8,1280.4" stroke="#f00a82"/><path d="M1120.8,1280.4L1141.4,1294.8" stroke="#e0453c"/><path d="M1178.4,1371.2L1232.9,1357.2" stroke="#3232dc"/><path d="M1232.9,1357.2L1287.4,1343.3" stroke="#f00a82"/><path d="M1096.5,1337.1L1137.4,1354.2" stroke="#f00a82"/><path d="M1137.4,1354.2L1178.4,1371.2" stroke="#3232dc"/></g><text x="1266.2" y="1067.8" font-size="33.6">C<tspan font-size="22" dy="7.8" dx="1">β</tspan></text><text x="1363.8" y="1045.8" font-size="33.6">C<tspan font-size="22" dy="8.2" dx="1" font-family="DejaVu Serif, serif" font-style="italic">α</tspan></text><text x="1435.2" y="1265" font-size="33.6">C<tspan font-size="22" dy="7.8" dx="1">1’</tspan></text><text x="1306.9" y="1304.5" font-size="33.6">C<tspan font-size="22" dy="7.8" dx="1">4a</tspan></text>
</svg>
</body></html>
